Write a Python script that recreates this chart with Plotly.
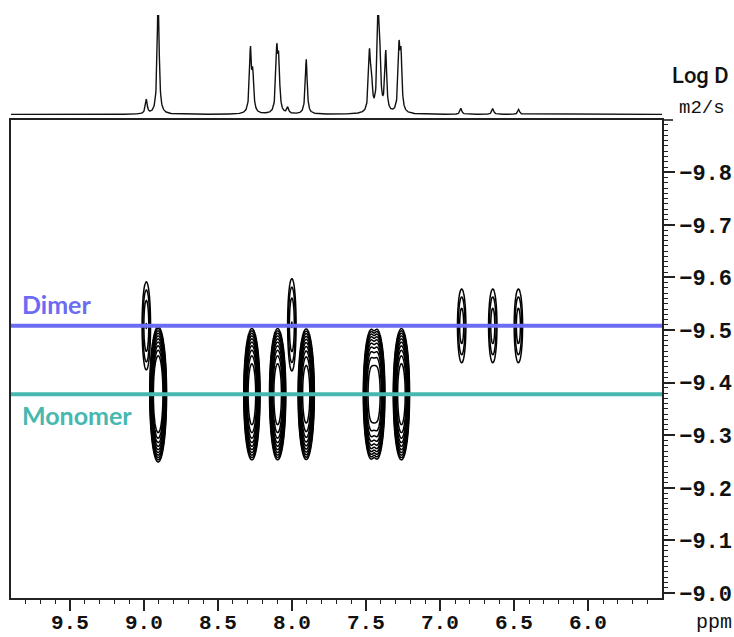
import numpy as np
import plotly.graph_objects as go

# ---------------- data ----------------
# 1D proton spectrum (projection): peak positions (ppm) and heights (arb.)
spec_ppm = [8.985, 8.905, 8.282, 8.266, 8.104, 8.091, 8.030, 7.905,
            7.478, 7.465, 7.420, 7.408, 7.368, 7.278, 7.265, 6.860, 6.645, 6.470]
spec_h = [14, 120, 62, 36, 58, 48, 6, 55,
          56, 30, 95, 45, 60, 60, 52, 6, 6, 5]

# DOSY cross peaks: monomer
mono_ppm = [8.905, 8.272, 8.098, 7.905, 7.465, 7.428, 7.262]
mono_logd = [-9.378, -9.378, -9.378, -9.378, -9.378, -9.378, -9.378]
mono_amp = [2.0, 1.0, 1.0, 0.9, 0.8, 0.8, 1.0]

# DOSY cross peaks: dimer
dimer_ppm = [8.985, 8.002, 6.855, 6.645, 6.472]
dimer_logd = [-9.508, -9.510, -9.508, -9.508, -9.508]
dimer_amp = [0.008, 0.008, 0.006, 0.006, 0.006]

dimer_level = -9.508
monomer_level = -9.378

x_ticks = [9.5, 9.0, 8.5, 8.0, 7.5, 7.0, 6.5, 6.0]
x_ticktext = ["9.5", "9.0", "8.5", "8.0", "7.5", "7.0", "6.5", "6.0"]

# ---------------- geometry ----------------
W, H = 734, 637
L, R, T, B = 11, 72, 15, 39
PW, PH = W - L - R, H - T - B
main_top = (598 - 120) / PH
spec_bot = (598 - 115) / PH

def px_x(p):
    return (p - L) / PW

def px_y(p):
    return (H - B - p) / PH

# ---------------- 2D grid for contours ----------------
xs = list(np.arange(5.5, 9.9001, 0.05))
for c in mono_ppm + dimer_ppm:
    xs += list(np.arange(c - 0.12, c + 0.12, 0.0018))
xg = np.unique(np.round(np.array(xs), 4))
ys = list(np.arange(-9.9, -8.99, 0.05)) + list(np.arange(-9.72, -9.16, 0.0025))
yg = np.unique(np.round(np.array(ys), 4))
X, Y = np.meshgrid(xg, yg)

Z = np.zeros_like(X)
# monomer: flat-topped profile
msx, msy, q = 0.023, 0.052, 1.5
for p, d, a in zip(mono_ppm, mono_logd, mono_amp):
    r2 = ((X - p) / msx) ** 2 + ((Y - d) / msy) ** 2
    Z += a * np.exp(-0.5 * r2 ** q)
# dimer: gaussian
dsx = [0.014, 0.014, 0.015, 0.015, 0.015]
dsy = [0.041, 0.043, 0.037, 0.037, 0.037]
for p, d, a, sx, sy in zip(dimer_ppm, dimer_logd, dimer_amp, dsx, dsy):
    r2 = ((X - p) / sx) ** 2 + ((Y - d) / sy) ** 2
    Z += a * np.exp(-0.5 * r2)
LZ = np.round(np.clip(np.log10(Z + 1e-12), -6, 1), 3)

# ---------------- 1D spectrum ----------------
sx_ = np.arange(5.5, 9.9, 0.0015)
sy_ = np.zeros_like(sx_)
hw = 0.0075
for p, h in zip(spec_ppm, spec_h):
    sy_ += h * hw ** 2 / ((sx_ - p) ** 2 + hw ** 2)
sy_ += 0.6

fig = go.Figure()
fig.add_trace(go.Contour(
    x=xg, y=yg, z=LZ,
    contours=dict(start=-3, end=-0.2, size=0.3, coloring="lines"),
    colorscale=[[0, "black"], [1, "black"]],
    showscale=False, line=dict(width=1.5), hoverinfo="skip",
))
fig.add_trace(go.Scatter(
    x=sx_, y=sy_, mode="lines", line=dict(color="#111", width=1.4),
    xaxis="x2", yaxis="y2", hoverinfo="skip", showlegend=False,
))

xtickfont = dict(family="Liberation Mono", size=21, color="#111", weight="bold")
ytickfont = dict(family="Liberation Mono", size=22, color="#111", weight="bold")
fig.update_layout(
    width=W, height=H,
    margin=dict(l=L, r=R, t=T, b=B, autoexpand=False),
    paper_bgcolor="white", plot_bgcolor="white",
    showlegend=False,
    xaxis=dict(
        domain=[0, 1], range=[9.899, 5.502], anchor="y", automargin=False,
        tickmode="array", tickvals=x_ticks, showticklabels=False,
        ticks="outside", ticklen=11, tickwidth=1.5, tickcolor="#222",
        minor=dict(dtick=0.1, tick0=0, ticks="outside", ticklen=4, tickwidth=1.3, tickcolor="#222"),
        showline=True, mirror=True, linecolor="#222", linewidth=1.6,
        showgrid=False, zeroline=False,
    ),
    yaxis=dict(
        domain=[0, main_top], range=[-8.9905, -9.8994], anchor="x", automargin=False,
        side="right", tickmode="linear", tick0=-9.0, dtick=0.1, tickformat=".1f",
        ticks="outside", ticklen=11, tickwidth=1.5, tickcolor="#222",
        minor=dict(dtick=0.01, tick0=-9.0, ticks="outside", ticklen=4, tickwidth=1.2, tickcolor="#222"),
        showline=True, mirror=True, linecolor="#222", linewidth=1.6,
        showgrid=False, zeroline=False, tickfont=ytickfont,
    ),
    xaxis2=dict(domain=[0, 1], matches="x", anchor="y2", visible=False, range=[9.899, 5.502]),
    yaxis2=dict(domain=[spec_bot, 1], range=[0, 100], anchor="x2", visible=False),
)

# x tick labels as text placed at the tick values
for v, t in zip(x_ticks, x_ticktext):
    fig.add_annotation(text=t, xref="x", yref="paper", x=v, y=px_y(623),
                       xanchor="center", yanchor="middle", showarrow=False,
                       font=xtickfont)

fig.add_shape(type="line", xref="x domain", yref="y", x0=0, x1=1,
              y0=dimer_level, y1=dimer_level, line=dict(color="#6B6BF3", width=4), layer="above")
fig.add_shape(type="line", xref="x domain", yref="y", x0=0, x1=1,
              y0=monomer_level, y1=monomer_level, line=dict(color="#46B8AF", width=4), layer="above")
fig.add_shape(type="line", xref="paper", yref="paper", x0=1, x1=1 + 11 / PW,
              y0=main_top, y1=main_top, line=dict(color="#222", width=1.6))

fig.add_annotation(text="Dimer", xref="paper", yref="y", x=px_x(20), y=-9.549,
                   xanchor="left", yanchor="middle", showarrow=False,
                   font=dict(family="Lato", size=25, color="#6B6BF3", weight="bold"))
fig.add_annotation(text="Monomer", xref="paper", yref="y", x=px_x(20), y=-9.338,
                   xanchor="left", yanchor="middle", showarrow=False,
                   font=dict(family="Lato", size=25, color="#46B8AF", weight="bold"))
fig.add_annotation(text="Log D", xref="paper", yref="paper", x=px_x(670), y=px_y(75),
                   xanchor="left", yanchor="middle", showarrow=False,
                   font=dict(family="Roboto", size=22, color="#111", weight=500))
fig.add_annotation(text="m2/s", xref="paper", yref="paper", x=px_x(677), y=px_y(108),
                   xanchor="left", yanchor="middle", showarrow=False,
                   font=dict(family="Liberation Mono", size=19, color="#111"))
fig.add_annotation(text="ppm", xref="paper", yref="paper", x=px_x(694), y=px_y(622),
                   xanchor="left", yanchor="middle", showarrow=False,
                   font=dict(family="Liberation Mono", size=20, color="#111"))

fig.write_html("out.html")
